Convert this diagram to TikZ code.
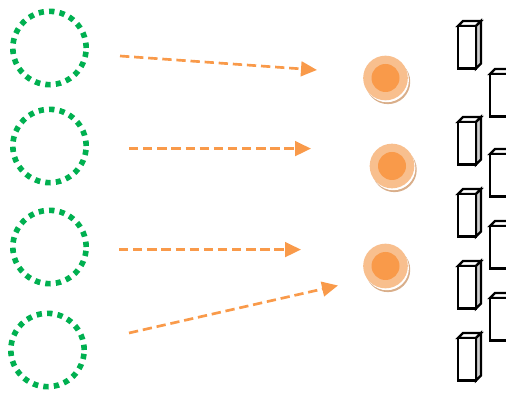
\documentclass[tikz,border=0pt]{standalone}
\usetikzlibrary{arrows.meta}
\definecolor{dotgreen}{HTML}{00B050}
\definecolor{orangemain}{HTML}{F99A4A}
\definecolor{orangelight}{HTML}{F8BF8E}
\definecolor{tanshadow}{HTML}{D9AE8A}
\definecolor{sidegray}{HTML}{D0D0D0}
\tikzset{
  ring/.style={circle,draw=dotgreen,line width=4.2pt,minimum size=55pt,inner sep=0pt,
    dash pattern=on 4pt off 3.9pt},
  flow/.style={draw=orangemain,line width=2pt,dash pattern=on 7pt off 3.6pt,
    -{Triangle[length=12pt,width=11pt,fill=orangemain]}},
  blobshadow/.style={circle,fill=tanshadow,minimum size=33.5pt,inner sep=0pt},
  blobgap/.style={circle,fill=white,minimum size=33pt,inner sep=0pt},
  blobouter/.style={circle,fill=orangelight,minimum size=33.5pt,inner sep=0pt},
  blobinner/.style={circle,fill=orangemain,minimum size=21pt,inner sep=0pt},
  boxline/.style={draw=black,line width=1.75pt,line join=miter},
}
\newcommand{\pillar}[2]{%
  \path[boxline,fill=white] (#1,#2) -- (#1+5,#2+5) -- (#1+23,#2+5) -- (#1+18,#2) -- cycle;
  \path[boxline,fill=sidegray] (#1+18,#2) -- (#1+23,#2+5) -- (#1+23,#2-37.5) -- (#1+18,#2-42.5) -- cycle;
  \path[boxline,fill=white] (#1,#2) rectangle (#1+18,#2-42.5);
}
\newcommand{\blob}[3]{%
  \node[blobshadow] at (#1+2.4,#2-3.8) {};
  \node[blobgap] at (#1+1.4,#2-2.2) {};
  \node[blobouter] (#3) at (#1,#2) {};
  \node[blobinner] at (#3) {};
}
\begin{document}
\begin{tikzpicture}[x=0.75pt,y=0.75pt]
\useasboundingbox (0,0) rectangle (506,392);
\clip (0,0) rectangle (506,392);
% rings (y = 392 - image y)
\node[ring] (r1) at (49.5,344) {};
\node[ring] (r2) at (49.5,246) {};
\node[ring] (r3) at (49.5,145) {};
\node[ring] (r4) at (47.5,42) {};
% blobs
\blob{385.5}{314}{b1}
\blob{392}{226}{b2}
\blob{385.5}{126}{b3}
% arrows
\coordinate (a1s) at (120,336);
\coordinate (a1e) at (317,322);
\coordinate (a2s) at (129,243.4);
\coordinate (a2e) at (311,243.4);
\coordinate (a3s) at (119,142.4);
\coordinate (a3e) at (301,142.4);
\coordinate (a4s) at (129,59);
\coordinate (a4e) at (338,106.5);
\draw[flow] (a1s) -- (a1e);
\draw[flow] (a2s) -- (a2e);
\draw[flow] (a3s) -- (a3e);
\draw[flow] (a4s) -- (a4e);
% pillars: x of left edge, y of top of front face
\pillar{458}{366}
\pillar{490}{318}
\pillar{458}{270}
\pillar{490}{238}
\pillar{458}{198}
\pillar{490}{166}
\pillar{458}{126}
\pillar{490}{94}
\pillar{458}{54}
\end{tikzpicture}
\end{document}
